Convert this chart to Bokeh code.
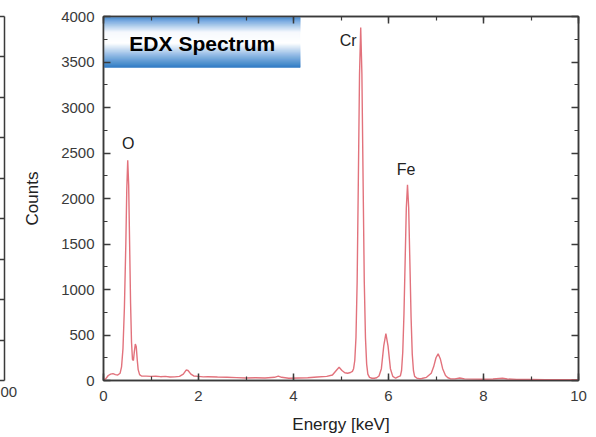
from bokeh.plotting import figure
from bokeh.models import (Range1d, LinearAxis, SingleIntervalTicker, FixedTicker,
                          ColumnDataSource, CustomLabelingPolicy, Title)
from bokeh.layouts import row
from bokeh.core.properties import value
from bokeh.embed import file_html
from bokeh.resources import INLINE

# ---- data ----
energy = [0.00, 0.05, 0.10, 0.15, 0.20, 0.25, 0.30, 0.35, 0.38, 0.41, 0.44, 0.47, 0.49, 0.51,
          0.53, 0.55, 0.57, 0.59, 0.61, 0.63, 0.65, 0.67, 0.69, 0.71, 0.73, 0.76, 0.80,
          0.90, 1.00, 1.10, 1.20, 1.30, 1.40, 1.50, 1.60, 1.68, 1.74, 1.78, 1.84, 1.90,
          2.00, 2.10, 2.20, 2.40, 2.60, 2.80, 3.00, 3.20, 3.40, 3.60, 3.68, 3.75, 3.90,
          4.10, 4.30, 4.50, 4.70, 4.82, 4.90, 4.96, 5.02, 5.08, 5.14, 5.20, 5.24,
          5.265, 5.29, 5.315, 5.34, 5.365, 5.39, 5.415, 5.44, 5.465, 5.49, 5.515, 5.54, 5.565,
          5.60, 5.65, 5.70, 5.75, 5.80, 5.85, 5.90, 5.945, 5.99, 6.04, 6.09, 6.15, 6.20,
          6.25, 6.275, 6.30, 6.325, 6.35, 6.375, 6.40, 6.425, 6.45, 6.475, 6.50, 6.525, 6.55,
          6.60, 6.65, 6.70, 6.80, 6.90, 6.95, 7.00, 7.045, 7.09, 7.14, 7.20, 7.25, 7.30,
          7.40, 7.50, 7.60, 7.80, 8.00, 8.20, 8.40, 8.50, 8.70, 9.00, 9.30, 9.60, 10.00]
counts = [5, 20, 55, 70, 75, 65, 60, 80, 150, 350, 800, 1500, 2100, 2420,
          2150, 1500, 850, 420, 230, 220, 320, 400, 370, 230, 120, 65, 50,
          48, 45, 47, 42, 45, 38, 40, 45, 70, 115, 110, 70, 50,
          45, 40, 42, 38, 35, 32, 28, 30, 28, 35, 48, 35, 25,
          28, 30, 38, 45, 60, 110, 146, 110, 85, 80, 88, 100,
          130, 220, 470, 1085, 2200, 3367, 3880, 3367, 2200, 1085, 470, 180, 70,
          35, 25, 25, 30, 50, 130, 380, 516, 380, 130, 45, 25, 40,
          50, 110, 310, 720, 1304, 1897, 2150, 1897, 1304, 698, 290, 110, 45,
          25, 20, 22, 35, 80, 150, 250, 293, 240, 130, 55, 30, 20,
          18, 28, 18, 15, 14, 16, 24, 16, 12, 12, 10, 10, 8]

peak_names = ["O", "Cr", "Fe"]
peak_label_x = [0.52, 5.15, 6.37]
peak_label_y = [2600, 3740, 2320]

title_text = "EDX Spectrum"
x_label = "Energy [keV]"
y_label = "Counts"
neighbour_tick_label = "00"

# ---- styling ----
FONT = "Liberation Sans"
AX = "#3a3a3a"
LINE = "#e2727c"

def hidden_label_axis(ax):
    ax.major_label_text_font_size = "0px"
    ax.major_label_standoff = 0
    ax.major_label_policy = CustomLabelingPolicy(
        code="for (const i of indices) { indices.unset(i) } return indices")

# ---- cut-off neighbouring panel on the far left ----
pa = figure(width=20, height=437, x_range=Range1d(0, 1), y_range=Range1d(0, 9),
            x_axis_location=None, y_axis_location=None, toolbar_location=None,
            output_backend="svg", min_border_left=0, min_border_right=16,
            min_border_top=16, min_border_bottom=57)
pa.outline_line_color = None
pa.xgrid.visible = False
pa.ygrid.visible = False
ra = LinearAxis(ticker=FixedTicker(ticks=list(range(10))),
                major_tick_in=6, major_tick_out=0,
                minor_tick_in=0, minor_tick_out=0, axis_line_color=AX, axis_line_width=1.5,
                major_tick_line_color=AX, major_tick_line_width=1.5)
hidden_label_axis(ra)
pa.add_layout(ra, "right")
pa.add_layout(Title(text=neighbour_tick_label, align="left", standoff=8,
                    text_font=FONT, text_font_size="15px", text_font_style="normal",
                    text_color=AX), "below")

# ---- main panel ----
p = figure(width=576, height=437, x_range=Range1d(0, 10), y_range=Range1d(0, 4000),
           toolbar_location=None, output_backend="svg",
           min_border_left=82, min_border_right=18, min_border_top=16, min_border_bottom=57)
p.outline_line_color = AX
p.outline_line_width = 1.5
p.xgrid.visible = False
p.ygrid.visible = False

def style_axis(ax, show_labels):
    ax.axis_line_color = AX
    ax.axis_line_width = 1.5
    ax.major_tick_line_color = AX
    ax.major_tick_line_width = 1.5
    ax.minor_tick_line_color = AX
    ax.minor_tick_line_width = 1.2
    ax.major_tick_in = 7
    ax.major_tick_out = 0
    ax.minor_tick_in = 4
    ax.minor_tick_out = 0
    if show_labels:
        ax.major_label_text_font = FONT
        ax.major_label_text_font_size = "15px"
        ax.major_label_text_color = AX
        ax.axis_label_text_font = FONT
        ax.axis_label_text_font_size = "17px"
        ax.axis_label_text_font_style = "normal"
        ax.axis_label_text_color = "#222222"
    else:
        hidden_label_axis(ax)

p.xaxis.ticker = SingleIntervalTicker(interval=2, num_minor_ticks=2)
p.yaxis.ticker = SingleIntervalTicker(interval=500, num_minor_ticks=2)
style_axis(p.xaxis[0], True)
style_axis(p.yaxis[0], True)
p.xaxis.axis_label = x_label
p.yaxis.axis_label = y_label
p.xaxis.major_label_standoff = 10
p.yaxis.major_label_standoff = 9
p.xaxis.axis_label_standoff = 11
p.yaxis.axis_label_standoff = 16

top_ax = LinearAxis(ticker=SingleIntervalTicker(interval=2, num_minor_ticks=2))
style_axis(top_ax, False)
p.add_layout(top_ax, "above")
right_ax = LinearAxis(ticker=SingleIntervalTicker(interval=500, num_minor_ticks=2))
style_axis(right_ax, False)
p.add_layout(right_ax, "right")

# spectrum
src = ColumnDataSource(dict(x=energy, y=counts))
p.line("x", "y", source=src, line_color=LINE, line_width=1.4)

# peak labels
p.text(x=peak_label_x, y=peak_label_y, text=peak_names, text_font=value(FONT),
       text_font_size="16px", text_color="#222222", text_align="center",
       text_baseline="middle")

# title box with vertical gradient
box_l, box_r, box_b, box_t = 0.02, 4.14, 3440, 3990
stops = [(0.0, (60, 130, 202)), (0.07, (110, 163, 220)), (0.30, (246, 249, 253)),
         (0.52, (255, 255, 255)), (0.80, (120, 170, 222)), (1.0, (38, 116, 192))]

def grad(t):
    for (t0, c0), (t1, c1) in zip(stops[:-1], stops[1:]):
        if t0 <= t <= t1:
            f = (t - t0) / (t1 - t0)
            return "#%02x%02x%02x" % tuple(int(round(a + (b - a) * f)) for a, b in zip(c0, c1))
    return "#%02x%02x%02x" % stops[-1][1]

n = 50
tops, bots, cols = [], [], []
for i in range(n):
    t0 = i / n
    t1 = (i + 1) / n
    tops.append(box_t - (box_t - box_b) * t0)
    bots.append(box_t - (box_t - box_b) * t1)
    cols.append(grad((t0 + t1) / 2))
p.quad(left=[box_l] * n, right=[box_r] * n, top=tops, bottom=bots,
       fill_color=cols, line_color=cols, line_width=0.5)
p.text(x=[(box_l + box_r) / 2], y=[(box_t + box_b) / 2 - 10], text=[title_text],
       text_font=value(FONT), text_font_style="bold", text_font_size="21px",
       text_color="black", text_align="center", text_baseline="middle")

layout = row(pa, p)
open("out.html", "w").write(file_html(layout, INLINE))
